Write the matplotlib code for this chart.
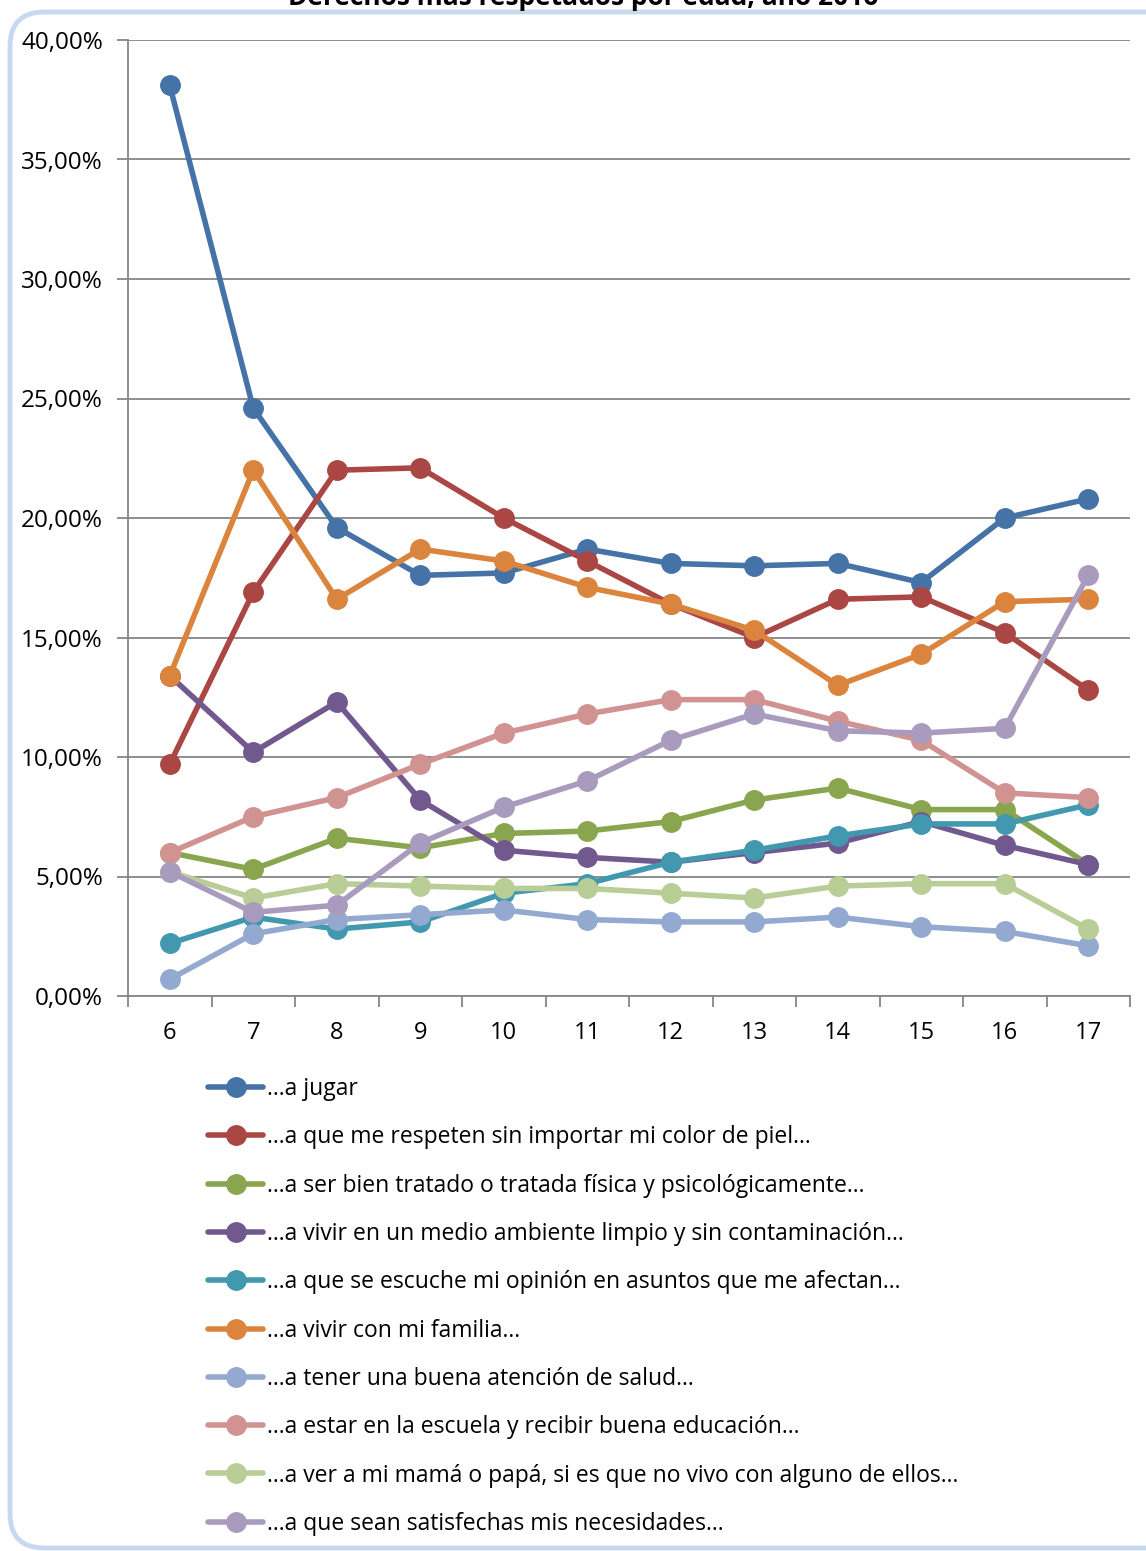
import matplotlib.pyplot as plt
from matplotlib.patches import FancyBboxPatch
from matplotlib.ticker import FuncFormatter, MultipleLocator, FixedLocator

plt.rcParams['font.family'] = ['Open Sans', 'DejaVu Sans']

# edades (eje X)
edades = [6, 7, 8, 9, 10, 11, 12, 13, 14, 15, 16, 17]

# porcentaje por edad para cada derecho
jugar = [38.1, 24.6, 19.6, 17.6, 17.7, 18.7, 18.1, 18.0, 18.1, 17.3, 20.0, 20.8]
color_piel = [9.7, 16.9, 22.0, 22.1, 20.0, 18.2, 16.4, 15.0, 16.6, 16.7, 15.2, 12.8]
bien_tratado = [6.0, 5.3, 6.6, 6.2, 6.8, 6.9, 7.3, 8.2, 8.7, 7.8, 7.8, 5.5]
medio_ambiente = [13.4, 10.2, 12.3, 8.2, 6.1, 5.8, 5.6, 6.0, 6.4, 7.3, 6.3, 5.5]
opinion = [2.2, 3.3, 2.8, 3.1, 4.3, 4.7, 5.6, 6.1, 6.7, 7.2, 7.2, 8.0]
familia = [13.4, 22.0, 16.6, 18.7, 18.2, 17.1, 16.4, 15.3, 13.0, 14.3, 16.5, 16.6]
salud = [0.7, 2.6, 3.2, 3.4, 3.6, 3.2, 3.1, 3.1, 3.3, 2.9, 2.7, 2.1]
escuela = [6.0, 7.5, 8.3, 9.7, 11.0, 11.8, 12.4, 12.4, 11.5, 10.7, 8.5, 8.3]
padres = [5.2, 4.1, 4.7, 4.6, 4.5, 4.5, 4.3, 4.1, 4.6, 4.7, 4.7, 2.8]
necesidades = [5.2, 3.5, 3.8, 6.4, 7.9, 9.0, 10.7, 11.8, 11.1, 11.0, 11.2, 17.6]

series = [
    (jugar, '#4572A7', '…a jugar'),
    (color_piel, '#AA4643', '…a que me respeten sin importar mi color de piel...'),
    (bien_tratado, '#89A54E', '…a ser bien tratado o tratada física y psicológicamente…'),
    (medio_ambiente, '#71588F', '…a vivir en un medio ambiente limpio y sin contaminación…'),
    (opinion, '#4198AF', '…a que se escuche mi opinión en asuntos que me afectan…'),
    (familia, '#DB843D', '…a vivir con mi familia…'),
    (salud, '#93A9CF', '…a tener una buena atención de salud…'),
    (escuela, '#D19392', '…a estar en la escuela y recibir buena educación…'),
    (padres, '#B9CD96', '…a ver a mi mamá o papá, si es que no vivo con alguno de ellos…'),
    (necesidades, '#A99BBD', '…a que sean satisfechas mis necesidades…'),
]

fig = plt.figure(figsize=(11.46, 15.51), dpi=100)

# marco redondeado del gráfico (se sale por la derecha)
y0 = 3 / 1551
marco = FancyBboxPatch((10 / 1146, y0), 1.2, 1 - 12 / 1551 - y0,
                       boxstyle='round,pad=0,rounding_size=0.03',
                       transform=fig.transFigure, facecolor='white',
                       edgecolor='#C6D9F1', linewidth=3.5, zorder=-10,
                       mutation_aspect=1146 / 1551)
fig.patches.append(marco)

ax = fig.add_axes([128 / 1146, 1 - 996 / 1551, (1130 - 128) / 1146, (996 - 40) / 1551])
ax.set_facecolor('none')

lineas = []
for valores, color, etiqueta in series:
    ln, = ax.plot(edades, valores, color=color, linewidth=4, marker='o',
                  markersize=14, label=etiqueta, solid_capstyle='round')
    lineas.append(ln)

ax.set_xlim(5.5, 17.5)
ax.set_ylim(0, 40)
ax.set_xticks(edades)
ax.xaxis.set_minor_locator(FixedLocator([e + 0.5 for e in [5] + edades]))
ax.tick_params(axis='x', which='major', length=0, pad=18, labelsize=17)
ax.tick_params(axis='x', which='minor', length=8, color='#868686', width=1.3)
ax.yaxis.set_major_locator(MultipleLocator(5))
ax.yaxis.set_major_formatter(FuncFormatter(lambda v, p: f'{v:.2f}%'.replace('.', ',')))
ax.tick_params(axis='y', length=8, color='#868686', width=1.3, labelsize=17.5, pad=10)
ax.yaxis.grid(True, color='#868686', linewidth=1.3)
ax.set_axisbelow(True)

for lado in ['top', 'right']:
    ax.spines[lado].set_visible(False)
for lado in ['left', 'bottom']:
    ax.spines[lado].set_color('#868686')
    ax.spines[lado].set_linewidth(1.3)

fig.text(0.509, 1 - 5 / 1551, 'Derechos más respetados por edad, año 2016',
         ha='center', va='baseline', fontsize=19, fontweight='bold')

fig.legend(handles=lineas, loc='upper left',
           bbox_to_anchor=(199 / 1146, 1 - 1068 / 1551), frameon=False,
           fontsize=16.5, handlelength=2.4, handletextpad=0.15, labelspacing=1.06,
           borderaxespad=0)

fig.savefig('out.png', dpi=100)
